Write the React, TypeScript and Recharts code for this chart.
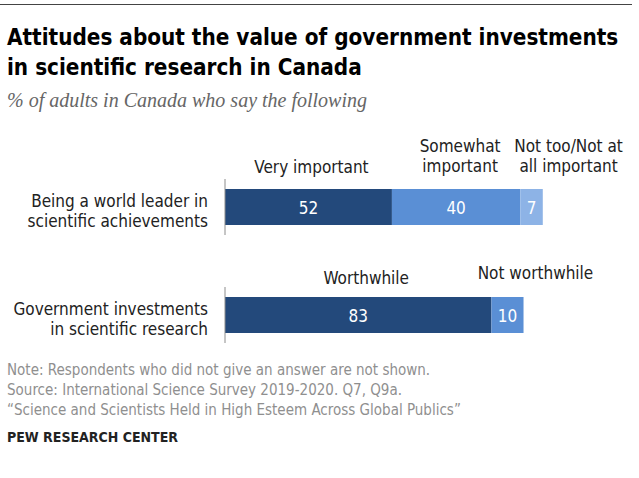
import { Bar, BarChart, LabelList, XAxis, YAxis } from "recharts";

const categories = [
  ["Being a world leader in", "scientific achievements"],
  ["Government investments", "in scientific research"],
];
const firstValues = [52, 83];
const secondValues = [40, 10];
const thirdValues = [7, 0];
const firstHeaders = [["Very important"], ["Worthwhile"]];
const secondHeaders = [["Somewhat", "important"], ["Not worthwhile"]];
const thirdHeaders = [["Not too/Not at", "all important"], []];

const narrow = '"Liberation Sans Narrow", "DejaVu Sans Condensed", Roboto, sans-serif';
const NAVY = "#23497b";
const MID = "#5a8fd5";
const LIGHT = "#8db3e6";

const chartData = categories.map((lines, i) => ({
  name: i,
  first: firstValues[i],
  second: secondValues[i],
  third: thirdValues[i],
}));

// header text above each segment; shift keeps the pew offsets
function headerLabel(headers: string[][], shifts: number[][]) {
  return (props: any) => {
    const { x, y, width, index } = props;
    const lines = headers[index] ?? [];
    if (!lines.length) return null;
    const [dx, dy] = shifts[index];
    const cx = Number(x) + Number(width) / 2 + dx;
    const base = Number(y) - 23 + dy;
    return (
      <g>
        {lines.map((line, k) => (
          <text
            key={k}
            x={cx}
            y={base - (lines.length - 1 - k) * 20}
            textAnchor="middle"
            dominantBaseline="central"
            fontFamily={narrow}
            fontSize={17}
            fill="#222"
          >
            {line}
          </text>
        ))}
      </g>
    );
  };
}

function CategoryTick(props: any) {
  const { x, y, payload } = props;
  const lines = categories[payload.value] ?? [];
  return (
    <g>
      <line x1={x} x2={x} y1={y - 28} y2={y + 28} stroke="#8c8c8c" strokeWidth={1} />
      {lines.map((line, k) => (
        <text
          key={k}
          x={x - 17}
          y={y - 6 + k * 20}
          textAnchor="end"
          dominantBaseline="central"
          fontFamily={narrow}
          fontSize={17}
          fill="#222"
        >
          {line}
        </text>
      ))}
    </g>
  );
}

const valueLabel = (props: any) => {
  const { x, y, width, height, value } = props;
  if (!value) return null;
  return (
    <text
      x={Number(x) + Number(width) / 2}
      y={Number(y) + Number(height) / 2 + 1}
      textAnchor="middle"
      dominantBaseline="central"
      fontFamily={narrow}
      fontSize={17}
      fill="#fff"
    >
      {value}
    </text>
  );
};

export default function App() {
  return (
    <div
      style={{
        position: "fixed",
        top: 0,
        left: 0,
        width: 639,
        height: 478,
        background: "#fff",
        fontFamily: narrow,
      }}
    >
      <div style={{ position: "absolute", top: 4, left: 0, width: 632, borderTop: "1px solid #444" }} />
      <div
        style={{
          position: "absolute",
          top: 22,
          left: 7,
          fontSize: 22.3,
          fontWeight: 700,
          lineHeight: "30px",
          color: "#000",
        }}
      >
        Attitudes about the value of government investments
        <br />
        in scientific research in Canada
      </div>
      <div
        style={{
          position: "absolute",
          top: 89,
          left: 7,
          fontFamily: '"Liberation Serif", "DejaVu Serif", serif',
          fontStyle: "italic",
          fontSize: 20,
          color: "#666",
        }}
      >
        % of adults in Canada who say the following
      </div>

      <div style={{ position: "absolute", top: 0, left: 0 }}>
        <BarChart
          width={639}
          height={478}
          data={chartData}
          layout="vertical"
          margin={{ top: 153, right: 93, bottom: 109, left: 0 }}
          barSize={36}
        >
          <XAxis type="number" domain={[0, 100]} hide />
          <YAxis
            type="category"
            dataKey="name"
            width={225}
            axisLine={false}
            tickLine={false}
            tickSize={0}
            tickMargin={0}
            tick={<CategoryTick />}
          />
          <Bar dataKey="first" stackId="s" fill={NAVY} isAnimationActive={false}>
            <LabelList dataKey="first" content={valueLabel} />
            <LabelList dataKey="first" content={headerLabel(firstHeaders, [[3, 1], [8, 4]])} />
          </Bar>
          <Bar dataKey="second" stackId="s" fill={MID} isAnimationActive={false}>
            <LabelList dataKey="second" content={valueLabel} />
            <LabelList dataKey="second" content={headerLabel(secondHeaders, [[4, 0], [28, -1]])} />
          </Bar>
          <Bar dataKey="third" stackId="s" fill={LIGHT} isAnimationActive={false}>
            <LabelList dataKey="third" content={valueLabel} />
            <LabelList dataKey="third" content={headerLabel(thirdHeaders, [[37, 0], [0, 0]])} />
          </Bar>
        </BarChart>
      </div>

      <div
        style={{
          position: "absolute",
          top: 360,
          left: 7,
          fontSize: 15,
          lineHeight: "20px",
          color: "#8f8f8f",
        }}
      >
        Note: Respondents who did not give an answer are not shown.
        <br />
        Source: International Science Survey 2019-2020. Q7, Q9a.
        <br />
        “Science and Scientists Held in High Esteem Across Global Publics”
      </div>
      <div
        style={{
          position: "absolute",
          top: 429,
          left: 7,
          fontSize: 14,
          fontWeight: 700,
          color: "#222",
        }}
      >
        PEW RESEARCH CENTER
      </div>
    </div>
  );
}
